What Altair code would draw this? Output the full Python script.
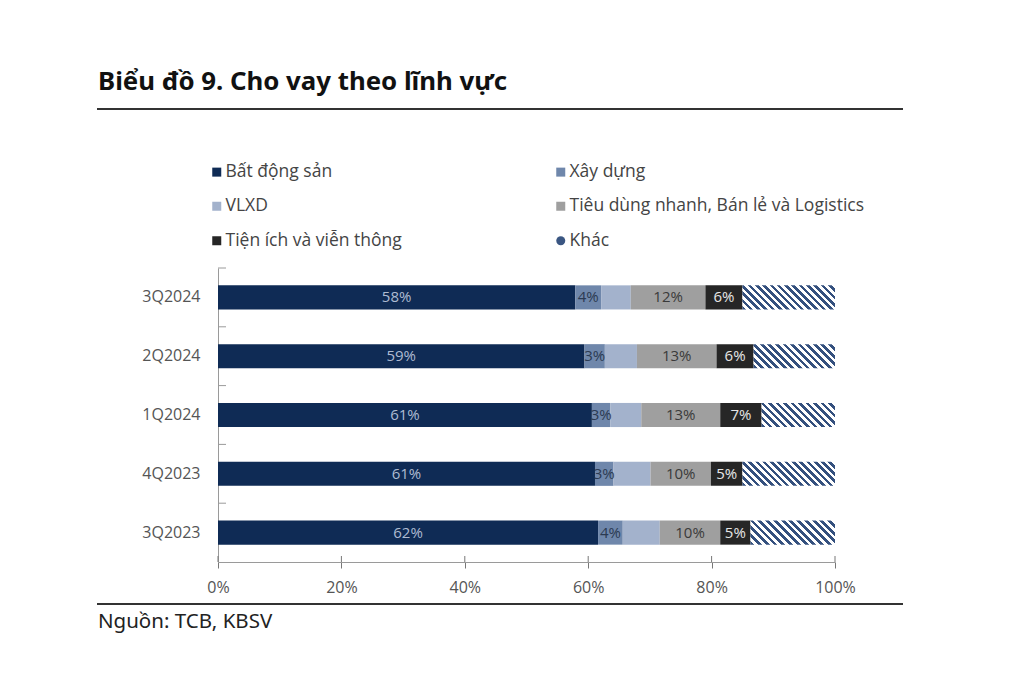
import altair as alt
import pandas as pd

periods = ["3Q2024", "2Q2024", "1Q2024", "4Q2023", "3Q2023"]
sectors = ["Bất động sản", "Xây dựng", "VLXD",
           "Tiêu dùng nhanh, Bán lẻ và Logistics", "Tiện ích và viễn thông", "Khác"]
bat_dong_san = [57.9, 59.4, 60.6, 61.1, 61.6]
xay_dung = [4.2, 3.3, 3.0, 3.0, 4.0]
vlxd = [4.8, 5.2, 5.0, 6.0, 6.0]
tieu_dung = [12.1, 12.9, 12.8, 9.8, 9.8]
tien_ich = [6.0, 6.0, 6.7, 5.1, 4.9]
khac = [15.0, 13.2, 11.9, 15.0, 13.7]
x_ticks = [0, 20, 40, 60, 80, 100]

title_text = "Biểu đồ 9. Cho vay theo lĩnh vực"
source_text = "Nguồn: TCB, KBSV"

colors = ["#0f2b55", "#6f87ab", "#a3b2cc", "#9f9f9f", "#262626", "#3a5682"]
shapes = ["square", "square", "square", "square", "square", "circle"]
label_colors = ["#aebbd2", "#2b3a52", None, "#3a3a3a", "#e6e6e6", None]
hatch_color = "#34507e"

W, H = 617, 294
P_INNER, P_OUTER = 0.59, 0.295
step = H / (len(periods) - P_INNER + 2 * P_OUTER)

series = [bat_dong_san, xay_dung, vlxd, tieu_dung, tien_ich, khac]
rows = []
for i, p in enumerate(periods):
    cum = 0.0
    for j, s in enumerate(sectors):
        v = series[j][i]
        rows.append({
            "period": p, "sector": s, "value": v,
            "start": cum, "end": cum + v, "mid": cum + v / 2,
            "label": f"{round(v)}%" if label_colors[j] else "",
            "lcolor": label_colors[j] or "#000000",
        })
        cum += v
df = pd.DataFrame(rows)

fill_scale = alt.Scale(domain=sectors, range=colors)
shape_scale = alt.Scale(domain=sectors, range=shapes)
y_scale = alt.Scale(domain=periods, paddingInner=P_INNER, paddingOuter=P_OUTER)
x_scale = alt.Scale(domain=[0, 100], nice=False)

y_axis = alt.Axis(title=None, ticks=False, domainColor="#9a9a9a", labelFontSize=16,
                  labelColor="#555555", labelPadding=18, labelFont="Open Sans")
x_axis = alt.Axis(values=x_ticks, labelExpr="datum.value + '%'", title=None, grid=False,
                  tickSize=6, tickColor="#777777", domainColor="#9a9a9a", labelFontSize=16,
                  labelColor="#555555", labelPadding=11, labelFont="Open Sans",
                  labelFlush=False)


def X(field):
    return alt.X(field, scale=x_scale, axis=x_axis)


def Y(**kw):
    return alt.Y("period:N", sort=periods, scale=y_scale, axis=y_axis, **kw)


def hatch(w_px, h_px, period=7.5, duty=0.5):
    r = h_px / w_px
    s = (1 + r) / (1 + r * r)
    n = max(1, round((w_px + h_px) / period))
    stops = []
    for k in range(n):
        a = k / n
        b = (k + duty) / n
        c = (k + 1) / n
        stops += [alt.GradientStop(offset=a, color=hatch_color),
                  alt.GradientStop(offset=b, color=hatch_color),
                  alt.GradientStop(offset=b, color="#ffffff"),
                  alt.GradientStop(offset=c, color="#ffffff")]
    return alt.LinearGradient(gradient="linear", stops=stops, x1=0, y1=1, x2=s, y2=1 - s * r)


main = alt.Chart(df[df["sector"] != "Khác"]).mark_bar().encode(
    x=X("start:Q"),
    x2="end:Q",
    y=Y(),
    fill=alt.Fill("sector:N", scale=fill_scale, legend=None),
)

band_h = step * (1 - P_INNER)
khac_layers = []
for i, p in enumerate(periods):
    sub = df[(df["sector"] == "Khác") & (df["period"] == p)]
    w_px = khac[i] / 100 * W
    khac_layers.append(
        alt.Chart(sub).mark_bar(fill=hatch(w_px, band_h)).encode(
            x=X("start:Q"), x2="end:Q", y=Y(),
        )
    )

legend = alt.Legend(title=None, orient="none", legendX=-10, legendY=-105, columns=2,
                    direction="horizontal",
                    columnPadding=150, rowPadding=15.5, symbolSize=81, labelFontSize=17.5,
                    labelColor="#444444", labelFont="Open Sans", symbolStrokeWidth=0,
                    labelOffset=0, labelLimit=400)
legend_layer = alt.Chart(pd.DataFrame({"sector": sectors, "v": [50] * 6,
                                       "period": [periods[0]] * 6})).mark_point(
    filled=True, size=0, opacity=1).encode(
    x=X("v:Q"),
    y=Y(),
    fill=alt.Fill("sector:N", scale=fill_scale, legend=legend),
    shape=alt.Shape("sector:N", scale=shape_scale, legend=legend),
)

labels = alt.Chart(df[df["label"] != ""]).mark_text(fontSize=15, font="Open Sans").encode(
    x=X("mid:Q"),
    y=Y(),
    text="label:N",
    color=alt.Color("lcolor:N", scale=None),
)

xticks_in = alt.Chart(pd.DataFrame({"t": x_ticks})).mark_rule(color="#777777").encode(
    x=X("t:Q"),
    y=alt.value(H - 6), y2=alt.value(H),
)

yticks_in = alt.Chart(pd.DataFrame({"period": periods})).mark_rule(color="#9a9a9a").encode(
    y=Y(bandPosition=0),
    yOffset=alt.value(-step * P_OUTER),
    x=alt.value(0), x2=alt.value(8),
)

deco = pd.DataFrame({"a": [0]})
title = alt.Chart(pd.DataFrame({"t": [title_text]})).mark_text(
    font="Noto Sans", fontWeight="bold", fontSize=25.8, align="left", baseline="alphabetic",
    color="#111111").encode(text="t:N", x=alt.value(-120), y=alt.value(-178))
source = alt.Chart(pd.DataFrame({"t": [source_text]})).mark_text(
    font="Noto Sans", fontSize=20.5, align="left", baseline="alphabetic",
    color="#222222").encode(text="t:N", x=alt.value(-120), y=alt.value(360))
line_top = alt.Chart(deco).mark_rule(color="#333333", strokeWidth=2).encode(
    x=alt.value(-121), x2=alt.value(685), y=alt.value(-159))
line_bot = alt.Chart(deco).mark_rule(color="#333333", strokeWidth=2).encode(
    x=alt.value(-121), x2=alt.value(685), y=alt.value(336))

chart = alt.layer(
    legend_layer, main, *khac_layers, labels, xticks_in, yticks_in,
    title, source, line_top, line_bot
).properties(
    width=W, height=H,
    autosize=alt.AutoSizeParams(type="none"),
    padding={"left": 210, "top": 260, "right": 150, "bottom": 100},
).configure(background="white").configure_view(stroke=None)

chart.save("out.html", embed_options={"renderer": "svg", "actions": False})
